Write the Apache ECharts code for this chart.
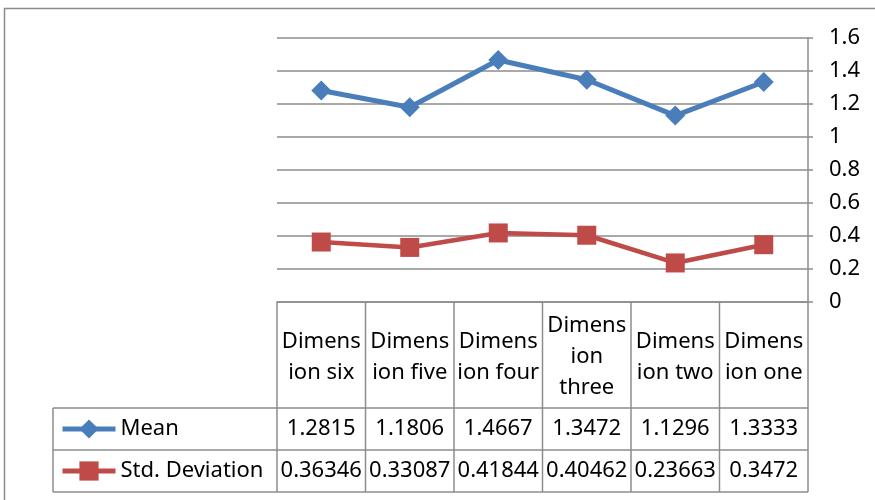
<!DOCTYPE html>
<html>
<head>
<meta charset="utf-8">
<script src="https://cdn.jsdelivr.net/npm/echarts@6/dist/echarts.min.js"></script>
<style>
html,body{margin:0;padding:0;background:#fff;}
#chart{width:875px;height:500px;}
</style>
</head>
<body>
<div id="chart"></div>
<script>
const categories = ['Dimension six', 'Dimension five', 'Dimension four', 'Dimension three', 'Dimension two', 'Dimension one'];
const headerLabels = ['Dimens\nion six', 'Dimens\nion five', 'Dimens\nion four', 'Dimens\nion\nthree', 'Dimens\nion two', 'Dimens\nion one'];
const seriesNames = ['Mean', 'Std. Deviation'];
const meanValues = [1.2815, 1.1806, 1.4667, 1.3472, 1.1296, 1.3333];
const stdValues = [0.36346, 0.33087, 0.41844, 0.40462, 0.23663, 0.3472];
const yMin = 0, yMax = 1.6, yStep = 0.2;

const FONT = 'Noto Sans';
const GRID_COLOR = '#8c8c8c';
const BLUE = '#4a7ebb';
const RED = '#be4b48';

const chart = echarts.init(document.getElementById('chart'), null, {renderer: 'canvas'});

const option = {
  animation: false,
  backgroundColor: '#fff',
  textStyle: {fontFamily: FONT},
  grid: {left: 277, right: 67, top: 38, bottom: 198, containLabel: false},
  xAxis: {
    type: 'category',
    data: categories,
    boundaryGap: true,
    axisLine: {show: true, lineStyle: {color: GRID_COLOR, width: 1.5}},
    axisTick: {show: false},
    axisLabel: {show: false},
    splitLine: {show: false}
  },
  yAxis: {
    type: 'value',
    position: 'right',
    min: yMin, max: yMax, interval: yStep,
    axisLine: {show: true, lineStyle: {color: GRID_COLOR, width: 1.5}},
    axisTick: {show: true, inside: false, length: 5, lineStyle: {color: GRID_COLOR, width: 1.5}},
    axisLabel: {margin: 21, color: '#000', fontSize: 22, fontFamily: FONT},
    splitLine: {show: true, lineStyle: {color: GRID_COLOR, width: 1.5}}
  },
  legend: {
    orient: 'vertical',
    left: 60,
    top: 417,
    padding: 0,
    itemWidth: 53,
    itemHeight: 24,
    itemGap: 18,
    textStyle: {fontSize: 22, color: '#000', fontFamily: FONT, lineHeight: 24},
    data: [
      {name: seriesNames[0], lineStyle: {width: 5}},
      {name: seriesNames[1], lineStyle: {width: 5}}
    ]
  },
  series: [
    {
      name: seriesNames[0], type: 'line', data: meanValues,
      symbol: 'diamond', symbolSize: 20,
      lineStyle: {color: BLUE, width: 5},
      itemStyle: {color: BLUE}
    },
    {
      name: seriesNames[1], type: 'line', data: stdValues,
      symbol: 'rect', symbolSize: 19,
      lineStyle: {color: RED, width: 4.5},
      itemStyle: {color: RED}
    }
  ]
};
chart.setOption(option);

// Build data table below the plot from the same arrays
const axisY = chart.convertToPixel({yAxisIndex: 0}, yMin);
const centers = categories.map(c => chart.convertToPixel({xAxisIndex: 0}, c));
const band = centers.length > 1 ? centers[1] - centers[0] : 88;
const leftX = centers[0] - band / 2;
const rightX = centers[centers.length - 1] + band / 2;
const headerH = 106, rowH = 42;
const row1Top = axisY + headerH;
const row2Top = row1Top + rowH;
const tableBottom = row2Top + rowH;
const tableLeft = 53;

const graphics = [];
const lineStyle = {stroke: GRID_COLOR, lineWidth: 1.5};
// outer chart border
graphics.push({type: 'rect', shape: {x: 4.5, y: 8.5, width: 900, height: 600}, style: {fill: 'none', stroke: GRID_COLOR, lineWidth: 1.5}, silent: true});
// horizontal table lines
[row1Top, row2Top, tableBottom].forEach(y => {
  graphics.push({type: 'line', shape: {x1: tableLeft, y1: y, x2: rightX, y2: y}, style: lineStyle, silent: true});
});
// vertical left edge of table rows
graphics.push({type: 'line', shape: {x1: tableLeft, y1: row1Top, x2: tableLeft, y2: tableBottom}, style: lineStyle, silent: true});
// column boundaries
for (let i = 0; i <= categories.length; i++) {
  const x = leftX + i * band;
  graphics.push({type: 'line', shape: {x1: x, y1: axisY, x2: x, y2: tableBottom}, style: lineStyle, silent: true});
}
// header texts and values
const textBase = {fontSize: 22, fontFamily: FONT, fill: '#000', align: 'center', verticalAlign: 'middle'};
categories.forEach((c, i) => {
  const cx = centers[i];
  graphics.push({type: 'text', x: cx, y: axisY + headerH / 2 + 2, style: Object.assign({}, textBase, {text: headerLabels[i], lineHeight: 31}), silent: true});
  graphics.push({type: 'text', x: cx, y: row1Top + rowH / 2, style: Object.assign({}, textBase, {text: String(meanValues[i])}), silent: true});
  graphics.push({type: 'text', x: cx, y: row2Top + rowH / 2, style: Object.assign({}, textBase, {text: String(stdValues[i])}), silent: true});
});
chart.setOption({graphic: graphics});
</script>
</body>
</html>
